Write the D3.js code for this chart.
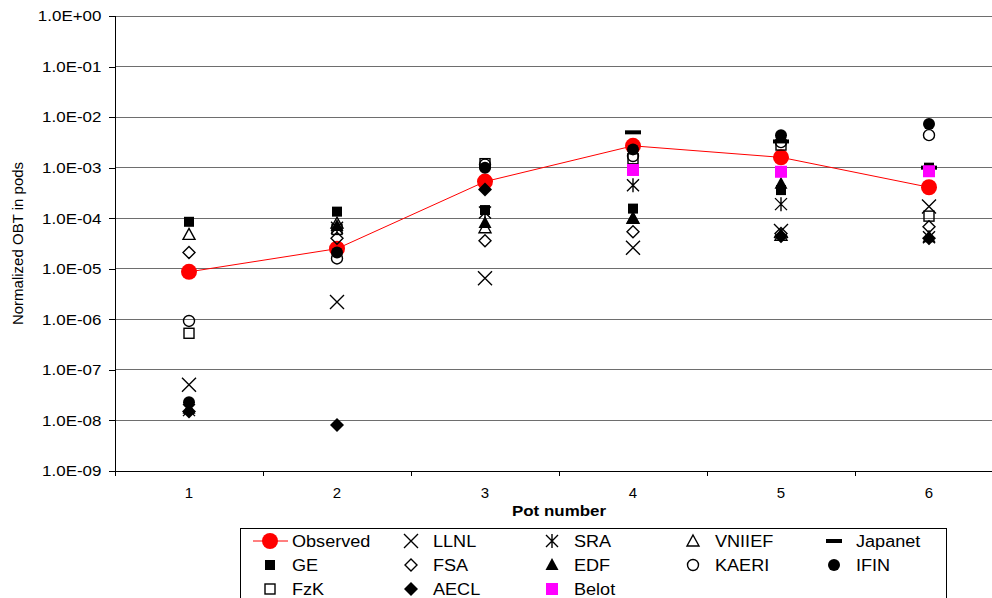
<!DOCTYPE html>
<html>
<head>
<meta charset="utf-8">
<script src="https://cdn.jsdelivr.net/npm/d3@7"></script>
<style>
  body { margin: 0; background: #fff; }
  text { font-family: "Liberation Sans", Arial, sans-serif; }
</style>
</head>
<body>
<div class="chart"></div>
<script>
// categories
const pots = ["1", "2", "3", "4", "5", "6"];
const yTicks = [1e0, 1e-1, 1e-2, 1e-3, 1e-4, 1e-5, 1e-6, 1e-7, 1e-8, 1e-9];

// series values (null = no point)
const observed = [8.7e-6, 2.5e-5, 5.3e-4, 2.7e-3, 1.6e-3, 4.1e-4];
const llnl     = [5.1e-8, 2.2e-6, 6.5e-6, 2.6e-5, 5.6e-5, 1.7e-4];
const sra      = [1.6e-8, 6.5e-5, 1.3e-4, 4.5e-4, 1.9e-4, 4.2e-5];
const vniief   = [4.8e-5, 8.0e-5, 6.5e-5, 1.0e-4, 4.6e-5, null];
const japanet  = [null, null, null, 5.0e-3, 3.3e-3, 1.0e-3];
const ge       = [8.5e-5, 1.35e-4, 1.45e-4, 1.55e-4, 3.6e-4, 1.0e-3];
const fsa      = [2.1e-5, 4.0e-5, 3.6e-5, 5.4e-5, 5.0e-5, 6.8e-5];
const edf      = [1.7e-8, 7.0e-5, 8.0e-5, 1.0e-4, 4.8e-4, 4.2e-5];
const kaeri    = [9.3e-7, 1.6e-5, 1.15e-3, 1.7e-3, 3.2e-3, 4.4e-3];
const ifin     = [2.3e-8, 2.1e-5, 1.0e-3, 2.3e-3, 4.4e-3, 7.3e-3];
const fzk      = [5.3e-7, 6.0e-5, 1.2e-3, 1.5e-3, 2.8e-3, 1.1e-4];
const aecl     = [1.5e-8, 8.1e-9, 3.7e-4, null, 4.4e-5, 4.0e-5];
const belot    = [null, null, null, 9.0e-4, 8.3e-4, 8.5e-4];

const series = [
  { name: "Observed", values: observed, marker: "obs" },
  { name: "LLNL", values: llnl, marker: "x" },
  { name: "SRA", values: sra, marker: "star" },
  { name: "VNIIEF", values: vniief, marker: "tri" },
  { name: "Japanet", values: japanet, marker: "dash" },
  { name: "GE", values: ge, marker: "sq" },
  { name: "FSA", values: fsa, marker: "dia" },
  { name: "EDF", values: edf, marker: "ftri" },
  { name: "KAERI", values: kaeri, marker: "circ" },
  { name: "IFIN", values: ifin, marker: "fcirc" },
  { name: "FzK", values: fzk, marker: "osq" },
  { name: "AECL", values: aecl, marker: "fdia" },
  { name: "Belot", values: belot, marker: "msq" }
];

const W = 992, H = 598;
const plot = { left: 115, top: 16, right: 1003, bottom: 471 };
const SX = 1.13; // text is a bit wide in the original

const svg = d3.select(".chart").append("svg")
  .attr("width", W).attr("height", H);

const x = d3.scaleBand().domain(pots).range([plot.left, plot.right]);
const y = d3.scaleLog().domain([1e-9, 1]).range([plot.bottom, plot.top]);

const fmt = d => {
  const e = Math.round(Math.log10(d));
  return "1.0E" + (e >= 0 ? "+" : "-") + String(Math.abs(e)).padStart(2, "0");
};

// grid
svg.append("g").selectAll("line").data(yTicks).enter().append("line")
  .attr("x1", plot.left).attr("x2", plot.right)
  .attr("y1", d => y(d)).attr("y2", d => y(d))
  .attr("stroke", "#6e6e6e").attr("stroke-width", 1)
  .attr("shape-rendering", "crispEdges");

// y axis
const yAxis = svg.append("g")
  .attr("transform", `translate(${plot.left},0)`)
  .call(d3.axisLeft(y).tickValues(yTicks).tickFormat(fmt).tickSize(6).tickPadding(6));
yAxis.select(".domain").attr("stroke", "#000").attr("shape-rendering", "crispEdges");
yAxis.selectAll(".tick line").attr("stroke", "#000").attr("shape-rendering", "crispEdges");
yAxis.selectAll("text").attr("font-size", 15).attr("fill", "#000")
  .attr("font-family", "Liberation Sans, Arial, sans-serif")
  .attr("transform", `scale(${SX},1)`);

// x axis
const xAxis = svg.append("g")
  .attr("transform", `translate(0,${plot.bottom})`)
  .call(d3.axisBottom(x).tickSize(0).tickPadding(16));
xAxis.select(".domain").remove();
xAxis.selectAll("text").attr("font-size", 15).attr("fill", "#000")
  .attr("font-family", "Liberation Sans, Arial, sans-serif");
svg.append("line")
  .attr("x1", plot.left).attr("x2", plot.right)
  .attr("y1", plot.bottom).attr("y2", plot.bottom)
  .attr("stroke", "#000").attr("shape-rendering", "crispEdges");
const bounds = pots.map(p => x(p)).concat([x(pots[pots.length - 1]) + x.bandwidth()]);
svg.append("g").selectAll("line").data(bounds).enter().append("line")
  .attr("x1", d => Math.round(d) + 0.5).attr("x2", d => Math.round(d) + 0.5)
  .attr("y1", plot.bottom).attr("y2", plot.bottom + 5)
  .attr("stroke", "#000");

// titles
svg.append("text")
  .attr("transform", `translate(${(plot.left + plot.right) / 2},516) scale(${SX},1)`)
  .attr("text-anchor", "middle").attr("font-size", 15).attr("font-weight", "bold")
  .text("Pot number");

svg.append("text")
  .attr("transform", `translate(23,${(plot.top + plot.bottom) / 2}) rotate(-90)`)
  .attr("text-anchor", "middle").attr("font-size", 15)
  .text("Normalized OBT in pods");

// marker painter
function marker(g, type, cx, cy) {
  const k = "#000";
  switch (type) {
    case "obs":
      g.append("circle").attr("cx", cx).attr("cy", cy).attr("r", 8).attr("fill", "#ff0000");
      break;
    case "x":
      g.append("path").attr("d", `M${cx - 7},${cy - 7}L${cx + 7},${cy + 7}M${cx + 7},${cy - 7}L${cx - 7},${cy + 7}`)
        .attr("stroke", k).attr("stroke-width", 1.4).attr("fill", "none");
      break;
    case "star":
      g.append("path").attr("d", `M${cx - 6},${cy - 6}L${cx + 6},${cy + 6}M${cx + 6},${cy - 6}L${cx - 6},${cy + 6}M${cx},${cy - 7}L${cx},${cy + 7}`)
        .attr("stroke", k).attr("stroke-width", 1.4).attr("fill", "none");
      break;
    case "tri":
      g.append("path").attr("d", `M${cx},${cy - 6}L${cx + 6},${cy + 5}L${cx - 6},${cy + 5}Z`)
        .attr("stroke", k).attr("stroke-width", 1.4).attr("fill", "none");
      break;
    case "ftri":
      g.append("path").attr("d", `M${cx},${cy - 7}L${cx + 6.5},${cy + 5}L${cx - 6.5},${cy + 5}Z`).attr("fill", k);
      break;
    case "dash":
      g.append("rect").attr("x", cx - 8).attr("y", cy - 2).attr("width", 16).attr("height", 4).attr("fill", k);
      break;
    case "sq":
      g.append("rect").attr("x", cx - 5).attr("y", cy - 5).attr("width", 10).attr("height", 10).attr("fill", k);
      break;
    case "osq":
      g.append("rect").attr("x", cx - 5).attr("y", cy - 5).attr("width", 10).attr("height", 10)
        .attr("fill", "none").attr("stroke", k).attr("stroke-width", 1.4);
      break;
    case "msq":
      g.append("rect").attr("x", cx - 6).attr("y", cy - 6).attr("width", 12).attr("height", 12).attr("fill", "#ff00ff");
      break;
    case "dia":
      g.append("path").attr("d", `M${cx},${cy - 6}L${cx + 6},${cy}L${cx},${cy + 6}L${cx - 6},${cy}Z`)
        .attr("stroke", k).attr("stroke-width", 1.4).attr("fill", "none");
      break;
    case "fdia":
      g.append("path").attr("d", `M${cx},${cy - 7}L${cx + 7},${cy}L${cx},${cy + 7}L${cx - 7},${cy}Z`).attr("fill", k);
      break;
    case "circ":
      g.append("circle").attr("cx", cx).attr("cy", cy).attr("r", 5.5)
        .attr("fill", "none").attr("stroke", k).attr("stroke-width", 1.4);
      break;
    case "fcirc":
      g.append("circle").attr("cx", cx).attr("cy", cy).attr("r", 6).attr("fill", k);
      break;
  }
}

const cx = p => x(p) + x.bandwidth() / 2;

// observed line
const line = d3.line()
  .defined(d => d.v != null)
  .x(d => cx(d.p)).y(d => y(d.v));
svg.append("path")
  .datum(pots.map((p, i) => ({ p, v: observed[i] })))
  .attr("d", line).attr("fill", "none").attr("stroke", "#ff0000").attr("stroke-width", 1);

// points
series.forEach(s => {
  const g = svg.append("g").attr("class", "series");
  s.values.forEach((v, i) => {
    if (v == null) return;
    marker(g, s.marker, cx(pots[i]), y(v));
  });
});

// legend
const lg = svg.append("g");
lg.append("rect").attr("x", 240.5).attr("y", 528.5).attr("width", 706).attr("height", 90)
  .attr("fill", "#fff").attr("stroke", "#000");
const colText = [292, 433, 574, 715, 856];
const rowY = [541, 565, 589];
series.forEach((s, i) => {
  const c = i % 5, r = Math.floor(i / 5);
  const tx = colText[c], ty = rowY[r];
  const sx = tx - 22;
  if (s.marker === "obs") {
    lg.append("line").attr("x1", 253).attr("x2", 288).attr("y1", ty).attr("y2", ty)
      .attr("stroke", "#ff0000");
  }
  marker(lg, s.marker, sx, ty);
  lg.append("text")
    .attr("transform", `translate(${tx},${ty + 6}) scale(${SX},1)`)
    .attr("font-size", 16).text(s.name);
});
</script>
</body>
</html>
